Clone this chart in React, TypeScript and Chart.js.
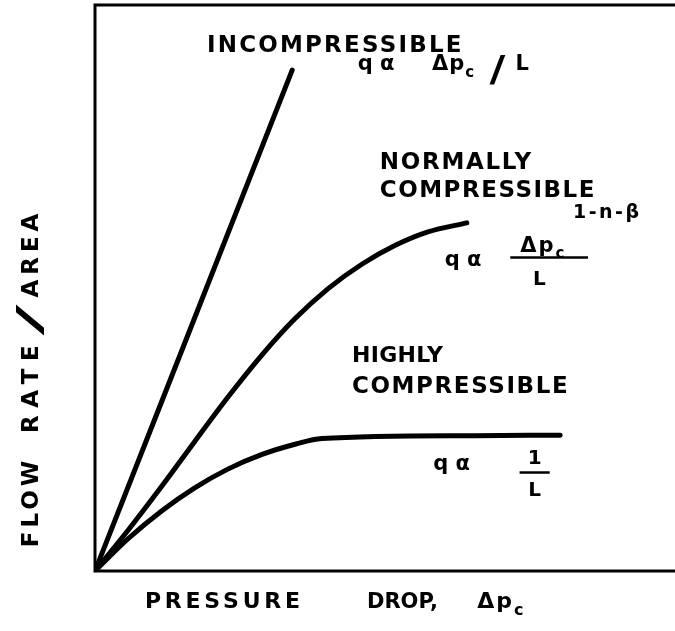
import React, { useEffect, useRef } from "react";
import { Chart, registerables } from "chart.js";

Chart.register(...registerables);

// Flow rate per unit area against cake pressure drop (arbitrary units, 0–100)
const incompressibleX = [0, 34.0];
const incompressibleY = [0, 88.5];

const normalX = [0, 5.7, 11.6, 17.2, 22.9, 28.8, 34.5, 40.2, 46.0, 51.7, 57.4, 64.1];
const normalY = [0, 7.2, 15.1, 22.9, 30.7, 38.2, 44.6, 49.9, 54.2, 57.5, 59.9, 61.5];

const highlyX = [0, 5.7, 11.6, 17.2, 22.9, 28.8, 34.5, 39.1, 65.5, 80.2];
const highlyY = [0, 5.7, 10.7, 14.7, 18.0, 20.6, 22.4, 23.4, 23.9, 24.0];

const seriesNames = ["INCOMPRESSIBLE", "NORMALLY COMPRESSIBLE", "HIGHLY COMPRESSIBLE"];

const xTitleWords = ["PRESSURE", "DROP,"];
const yTitleWords = ["FLOW", "RATE", "AREA"];

const FONT = '"DejaVu Sans", "Liberation Sans", sans-serif';

type Part = { t: string; sub?: boolean; sup?: boolean };

function toPoints(xs: number[], ys: number[]) {
  return xs.map((x, i) => ({ x, y: ys[i] }));
}

function drawRich(
  ctx: CanvasRenderingContext2D,
  x: number,
  y: number,
  parts: Part[],
  size: number,
  spacing = 0,
  align: "left" | "center" = "left"
) {
  const fontOf = (p: Part) => `bold ${p.sub || p.sup ? Math.round(size * 0.72) : size}px ${FONT}`;
  const widths = parts.map((p) => {
    ctx.font = fontOf(p);
    (ctx as any).letterSpacing = `${spacing}px`;
    return ctx.measureText(p.t).width;
  });
  const total = widths.reduce((a, b) => a + b, 0);
  let cx = align === "center" ? x - total / 2 : x;
  parts.forEach((p, i) => {
    ctx.font = fontOf(p);
    (ctx as any).letterSpacing = `${spacing}px`;
    const dy = p.sub ? size * 0.32 : p.sup ? -size * 0.5 : 0;
    ctx.fillText(p.t, cx, y + dy);
    cx += widths[i];
  });
}

// Wide, slanted slash used between words of the titles
function drawSlash(
  ctx: CanvasRenderingContext2D,
  x: number,
  y: number,
  size: number,
  stretch: number,
  weight = "bold"
) {
  ctx.save();
  ctx.translate(x, y);
  ctx.scale(stretch, 1);
  ctx.font = `${weight} ${size}px ${FONT}`;
  (ctx as any).letterSpacing = "0px";
  ctx.fillText("/", 0, 0);
  ctx.restore();
}

const framePlugin = {
  id: "frame",
  beforeDatasetsDraw(chart: any) {
    const { ctx, scales } = chart;
    const { x, y } = scales;
    const l = x.getPixelForValue(0);
    const r = x.getPixelForValue(100);
    const b = y.getPixelForValue(0);
    const t = y.getPixelForValue(100);
    ctx.save();
    ctx.strokeStyle = "#000";
    ctx.lineWidth = 3;
    ctx.beginPath();
    ctx.moveTo(r, t);
    ctx.lineTo(l, t);
    ctx.lineTo(l, b);
    ctx.lineTo(r, b);
    ctx.stroke();
    ctx.restore();
  },
};

const labelPlugin = {
  id: "curveLabels",
  afterDatasetsDraw(chart: any) {
    const { ctx, scales } = chart;
    const { x, y } = scales;
    const X = (v: number) => x.getPixelForValue(v);
    const Y = (v: number) => y.getPixelForValue(v);
    ctx.save();
    ctx.fillStyle = "#000";
    ctx.strokeStyle = "#000";
    ctx.textBaseline = "alphabetic";
    ctx.textAlign = "left";

    // Incompressible
    drawRich(ctx, X(19.3), Y(91.7), [{ t: seriesNames[0] }], 23, 2.2);
    drawRich(ctx, X(45.3), Y(88.5), [{ t: "q α" }], 21, 0);
    drawRich(ctx, X(58.1), Y(88.5), [{ t: "Δp" }, { t: "c", sub: true }], 21, 1);
    drawSlash(ctx, X(68.0), Y(86.6), 36, 1.2);
    drawRich(ctx, X(72.5), Y(88.5), [{ t: "L" }], 21, 0);

    // Normally compressible
    drawRich(ctx, X(49.1), Y(71.0), [{ t: "NORMALLY" }], 23, 1.7);
    drawRich(ctx, X(49.1), Y(66.1), [{ t: "COMPRESSIBLE" }], 23, 1.5);
    drawRich(ctx, X(60.3), Y(53.9), [{ t: "q α" }], 21, 0);
    drawRich(ctx, X(73.3), Y(56.4), [{ t: "Δp" }, { t: "c", sub: true }], 21, 2);
    ctx.lineWidth = 2.5;
    ctx.beginPath();
    ctx.moveTo(X(71.6), Y(55.4));
    ctx.lineTo(X(85.0), Y(55.4));
    ctx.stroke();
    drawRich(ctx, X(76.6), Y(50.6), [{ t: "L" }], 20, 0, "center");
    drawRich(ctx, X(82.4), Y(62.4), [{ t: "1-n-β" }], 19, 2.5);

    // Highly compressible
    drawRich(ctx, X(44.3), Y(36.9), [{ t: "HIGHLY" }], 22, 0.3);
    drawRich(ctx, X(44.3), Y(31.4), [{ t: "COMPRESSIBLE" }], 23, 1.6);
    drawRich(ctx, X(58.3), Y(17.8), [{ t: "q α" }], 21, 0);
    drawRich(ctx, X(75.8), Y(18.9), [{ t: "1" }], 20, 0, "center");
    ctx.beginPath();
    ctx.moveTo(X(73.2), Y(17.4));
    ctx.lineTo(X(78.4), Y(17.4));
    ctx.stroke();
    drawRich(ctx, X(75.8), Y(13.2), [{ t: "L" }], 20, 0, "center");

    // Axis titles
    const base = y.getPixelForValue(0) + 37;
    drawRich(ctx, X(8.6), base, [{ t: xTitleWords[0] }], 22, 3.8);
    drawRich(ctx, X(46.9), base, [{ t: xTitleWords[1] }], 21, 0);
    drawRich(ctx, X(65.9), base, [{ t: "Δp" }, { t: "c", sub: true }], 22, 2);

    ctx.save();
    ctx.translate(38, 0);
    ctx.rotate(-Math.PI / 2);
    drawRich(ctx, -Y(4.2), 0, [{ t: yTitleWords[0] }], 23, 4);
    drawRich(ctx, -Y(24.4), 0, [{ t: yTitleWords[1] }], 23, 7.5);
    drawSlash(ctx, -Y(41.6), 3, 34, 2.7, "normal");
    drawRich(ctx, -Y(48.3), 0, [{ t: yTitleWords[2] }], 23, 5);
    ctx.restore();

    ctx.restore();
  },
};

export default function App() {
  const ref = useRef<HTMLCanvasElement | null>(null);

  useEffect(() => {
    if (!ref.current) return;
    const line = (xs: number[], ys: number[], label: string) => ({
      label,
      data: toPoints(xs, ys),
      showLine: true,
      borderColor: "#000",
      backgroundColor: "#000",
      borderWidth: 5,
      borderCapStyle: "round" as const,
      borderJoinStyle: "round" as const,
      pointRadius: 0,
      cubicInterpolationMode: "monotone" as const,
    });
    const chart = new Chart(ref.current, {
      type: "scatter",
      data: {
        datasets: [
          line(incompressibleX, incompressibleY, seriesNames[0]),
          line(normalX, normalY, seriesNames[1]),
          line(highlyX, highlyY, seriesNames[2]),
        ],
      },
      options: {
        animation: false,
        responsive: false,
        layout: { padding: { left: 95, top: 5, right: 0, bottom: 60 } },
        plugins: { legend: { display: false }, tooltip: { enabled: false } },
        scales: {
          x: { type: "linear", min: 0, max: 100, display: false },
          y: { type: "linear", min: 0, max: 100, display: false },
        },
      },
      plugins: [framePlugin, labelPlugin],
    });
    return () => chart.destroy();
  }, []);

  return (
    <div style={{ position: "fixed", left: 0, top: 0, width: 675, height: 631, background: "#fff" }}>
      <canvas ref={ref} width={675} height={631} />
    </div>
  );
}
